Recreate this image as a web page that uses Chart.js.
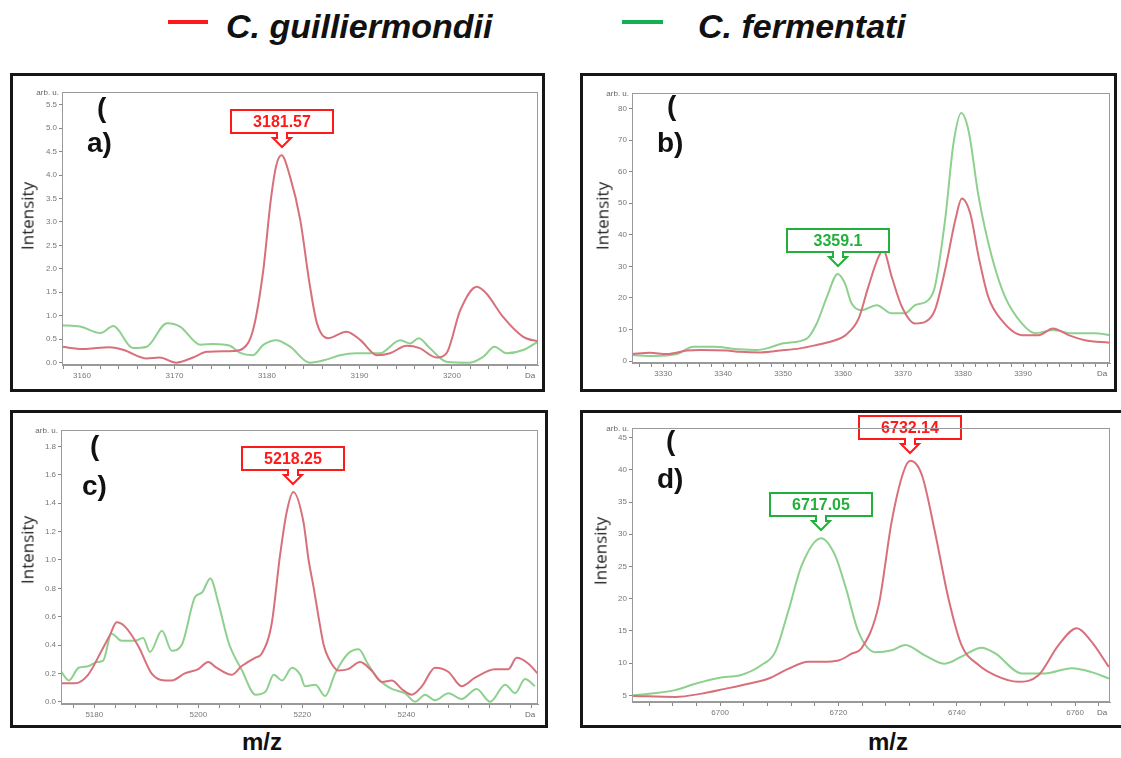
<!DOCTYPE html>
<html>
<head>
<meta charset="utf-8">
<script src="https://cdn.jsdelivr.net/npm/chart.js@4.4.1/dist/chart.umd.min.js"></script>
<style>
  html, body { margin: 0; padding: 0; background: #fff; }
  body { width: 1121px; height: 758px; position: relative; overflow: hidden; font-family: "Liberation Sans", Arial, sans-serif; }
  .box { position: absolute; border: 3px solid #161616; box-sizing: border-box; }
  canvas { position: absolute; }
  .t { position: absolute; white-space: nowrap; line-height: 1; color: #111; }
  .lab { font-size: 28px; font-weight: bold; }
  .leg { font-size: 34px; font-weight: bold; font-style: italic; }
  .mz { font-size: 24px; font-weight: bold; }
  .ylab { font-family: "Open Sans", sans-serif; font-size: 17px; color: #222; transform: translate(-50%, -50%) rotate(-90deg); }
  .swatch { position: absolute; height: 4px; }
</style>
</head>
<body>
<div class="box" style="left:10px;top:73px;width:535px;height:319px"></div>
<div class="box" style="left:580px;top:73px;width:537px;height:319px"></div>
<div class="box" style="left:10px;top:410px;width:538px;height:318px"></div>
<div class="box" style="left:580px;top:410px;width:560px;height:318px"></div>

<div class="swatch" style="left:168px;top:20px;width:40px;background:#ff1a1a"></div>
<div class="t leg" style="left:226px;top:9px">C. guilliermondii</div>
<div class="swatch" style="left:622px;top:20px;width:41px;background:#12b050"></div>
<div class="t leg" style="left:698px;top:9px">C. fermentati</div>

<script>
// panel a) 3160-3210 Da
const aRedMz = [3157.8, 3160.1, 3163.0, 3164.5, 3167.0, 3168.4, 3170.2, 3172.0, 3173.5, 3176.4, 3177.4, 3178.5, 3179.6, 3180.4, 3181.0, 3181.57, 3182.5, 3183.6, 3184.6, 3185.4, 3186.6, 3188.6, 3190.1, 3191.9, 3193.3, 3195.1, 3196.5, 3198.3, 3199.4, 3200.9, 3202.7, 3203.7, 3205.5, 3207.7, 3209.3];
const aRedInt = [0.34, 0.29, 0.33, 0.27, 0.09, 0.11, 0.0, 0.11, 0.23, 0.25, 0.30, 0.70, 1.97, 3.45, 4.2, 4.42, 3.96, 3.04, 1.69, 0.84, 0.52, 0.66, 0.48, 0.16, 0.20, 0.36, 0.31, 0.11, 0.20, 1.12, 1.62, 1.48, 0.98, 0.55, 0.45];
const aGreenMz = [3157.8, 3159.8, 3162.0, 3163.4, 3165.5, 3167.0, 3169.2, 3170.6, 3172.8, 3174.2, 3176.0, 3177.1, 3178.5, 3179.6, 3181.0, 3182.5, 3184.6, 3186.5, 3187.9, 3189.7, 3192.2, 3194.4, 3195.5, 3196.4, 3197.6, 3199.4, 3201.9, 3203.4, 3204.6, 3205.9, 3207.7, 3209.3];
const aGreenInt = [0.80, 0.77, 0.63, 0.78, 0.31, 0.34, 0.84, 0.77, 0.38, 0.40, 0.36, 0.21, 0.16, 0.38, 0.48, 0.34, 0.0, 0.07, 0.16, 0.20, 0.20, 0.48, 0.41, 0.52, 0.31, 0.02, 0.0, 0.13, 0.34, 0.20, 0.27, 0.45];
const aXLabels = [3160, 3170, 3180, 3190, 3200];
const aYTicks = [0, 0.5, 1, 1.5, 2, 2.5, 3, 3.5, 4, 4.5, 5, 5.5];
const aPeaks = [{ mz: 3181.57, y: 4.42, text: '3181.57', color: '#ff1a1a' }];

// panel b) 3330-3400 Da
const bRedMz = [3324.8, 3327.8, 3330.6, 3334.0, 3336.2, 3340.6, 3342.8, 3346.2, 3349.5, 3352.8, 3355.6, 3358.4, 3360.6, 3362.6, 3364.2, 3365.9, 3366.7, 3368.1, 3369.8, 3372.0, 3373.7, 3375.3, 3377.0, 3378.7, 3379.8, 3381.2, 3382.6, 3384.2, 3386.4, 3389.8, 3392.6, 3395.0, 3397.6, 3400.3, 3404.4];
const bRedInt = [2.2, 2.6, 2.2, 3.3, 3.5, 3.3, 2.9, 2.7, 3.3, 4.0, 5.1, 6.4, 8.5, 13.5, 23.5, 33, 35, 26.7, 17.2, 11.9, 12.4, 16.1, 28.8, 44.6, 51.5, 46.7, 33, 20.3, 13, 8.2, 8.2, 10.3, 8.2, 6.6, 5.8];
const bGreenMz = [3324.8, 3328.4, 3332.3, 3335.0, 3338.4, 3342.8, 3345.6, 3347.3, 3350.0, 3354.0, 3355.6, 3357.3, 3359.1, 3360.3, 3361.4, 3363.1, 3365.6, 3368.1, 3370.3, 3372.0, 3374.2, 3375.3, 3377.0, 3378.4, 3379.7, 3380.9, 3382.6, 3384.8, 3387.0, 3389.8, 3392.0, 3395.0, 3398.1, 3402.0, 3404.4];
const bGreenInt = [1.9, 1.6, 2.2, 4.5, 4.5, 3.7, 3.5, 4.0, 5.6, 7.2, 11.9, 20.3, 27.6, 24.6, 18.3, 16.1, 17.7, 15.1, 15.1, 17.7, 19.3, 23.5, 44.6, 68.9, 78.6, 73.1, 52, 33, 20.3, 11.9, 8.8, 9.8, 8.8, 8.8, 8.2];
const bXLabels = [3330, 3340, 3350, 3360, 3370, 3380, 3390];
const bYTicks = [0, 10, 20, 30, 40, 50, 60, 70, 80];
const bPeaks = [{ mz: 3359.1, y: 27.6, text: '3359.1', color: '#22b03a' }];

// panel c) 5180-5260 Da
const cRedMz = [5173.7, 5176.3, 5178.8, 5181.4, 5183.0, 5184.3, 5185.9, 5188.5, 5191.0, 5193.6, 5194.9, 5197.4, 5200.0, 5201.9, 5203.5, 5206.4, 5208.3, 5210.9, 5212.2, 5214.1, 5215.7, 5217.0, 5218.25, 5220.2, 5221.2, 5222.2, 5223.1, 5224.1, 5225.0, 5226.9, 5228.8, 5231.1, 5233.3, 5235.3, 5237.2, 5239.1, 5241.0, 5243.0, 5245.5, 5248.1, 5250.6, 5253.2, 5257.0, 5259.6, 5261.2, 5263.4, 5265.2];
const cRedInt = [0.13, 0.13, 0.19, 0.36, 0.47, 0.56, 0.53, 0.39, 0.20, 0.15, 0.15, 0.20, 0.23, 0.28, 0.24, 0.19, 0.25, 0.31, 0.34, 0.55, 1.03, 1.34, 1.48, 1.27, 1.0, 0.8, 0.6, 0.4, 0.31, 0.22, 0.23, 0.28, 0.22, 0.14, 0.15, 0.09, 0.05, 0.11, 0.24, 0.21, 0.11, 0.17, 0.23, 0.23, 0.31, 0.27, 0.20];
const cGreenMz = [5173.5, 5175.1, 5177.0, 5178.8, 5180.5, 5181.7, 5183.3, 5185.3, 5187.8, 5189.4, 5190.7, 5193.0, 5194.9, 5196.8, 5199.4, 5200.7, 5202.3, 5203.9, 5205.8, 5208.4, 5211.0, 5212.9, 5214.5, 5216.1, 5218.0, 5219.6, 5220.5, 5222.5, 5224.4, 5226.3, 5228.8, 5230.8, 5232.7, 5234.6, 5237.2, 5239.7, 5241.7, 5243.6, 5245.5, 5248.1, 5250.6, 5253.5, 5256.1, 5259.0, 5260.9, 5262.8, 5264.7];
const cGreenInt = [0.22, 0.15, 0.24, 0.25, 0.28, 0.29, 0.48, 0.43, 0.43, 0.45, 0.35, 0.50, 0.36, 0.40, 0.74, 0.77, 0.87, 0.69, 0.42, 0.22, 0.05, 0.07, 0.19, 0.15, 0.24, 0.19, 0.11, 0.12, 0.04, 0.20, 0.34, 0.37, 0.26, 0.16, 0.09, 0.06, 0.0, 0.05, 0.01, 0.06, 0.02, 0.09, 0.0, 0.12, 0.06, 0.16, 0.11];
const cXLabels = [5180, 5200, 5220, 5240];
const cYTicks = [0, 0.2, 0.4, 0.6, 0.8, 1.0, 1.2, 1.4, 1.6, 1.8];
const cPeaks = [{ mz: 5218.25, y: 1.48, text: '5218.25', color: '#ff1a1a' }];

// panel d) 6690-6765 Da
const dRedMz = [6685.3, 6692.4, 6696.9, 6700.8, 6704.8, 6708.2, 6711.5, 6714.9, 6717.2, 6720.0, 6722.3, 6723.9, 6726.8, 6729.0, 6731.0, 6732.14, 6734.1, 6736.3, 6738.6, 6740.8, 6743.7, 6746.5, 6750.4, 6753.8, 6757.2, 6760.3, 6762.8, 6765.7];
const dRedInt = [4.9, 4.75, 5.26, 6.0, 6.8, 7.6, 9.1, 10.2, 10.2, 10.4, 11.5, 12.3, 19.0, 32.0, 39.7, 41.4, 39.2, 30.4, 20.0, 12.8, 9.7, 8.1, 7.1, 8.1, 12.8, 15.4, 13.3, 9.4];
const dGreenMz = [6685.3, 6692.4, 6695.8, 6699.7, 6703.7, 6707.0, 6709.3, 6711.5, 6713.8, 6717.05, 6719.4, 6721.3, 6723.4, 6726.2, 6729.0, 6731.3, 6734.6, 6738.0, 6740.8, 6744.2, 6746.5, 6751.0, 6754.9, 6759.4, 6762.8, 6765.7];
const dGreenInt = [5.0, 5.8, 6.8, 7.7, 8.2, 9.7, 11.7, 18.0, 25.2, 29.4, 26.8, 21.5, 14.8, 11.7, 12.0, 12.8, 11.2, 9.9, 11.0, 12.4, 11.5, 8.4, 8.4, 9.2, 8.6, 7.6];
const dXLabels = [6700, 6720, 6740, 6760];
const dYTicks = [5, 10, 15, 20, 25, 30, 35, 40, 45];
const dPeaks = [
  { mz: 6717.05, y: 29.4, text: '6717.05', color: '#22b03a' },
  { mz: 6732.14, y: 41.4, text: '6732.14', color: '#ff1a1a' }
];

const RED = '#d8707c';
const GREEN = '#8ed08e';

function txt(cls, x, y, s, extra) {
  const d = document.createElement('div');
  d.className = 't ' + cls;
  d.style.left = x + 'px';
  d.style.top = y + 'px';
  if (extra) d.style.cssText += extra;
  d.textContent = s;
  document.body.appendChild(d);
}

function panel(p) {
  const yw = 40, pt = 14, pr = 4, xh = 20;
  const [L, T, R, B] = p.plot;
  const cv = document.createElement('canvas');
  cv.width = R - L + yw + pr;
  cv.height = B - T + pt + xh;
  cv.style.left = (L - yw) + 'px';
  cv.style.top = (T - pt) + 'px';
  document.body.appendChild(cv);

  const minor = [];
  for (let v = Math.ceil(p.xMin / p.step) * p.step; v <= p.xMax; v += p.step) minor.push(v);

  const frame = {
    id: 'frame',
    afterDraw(chart) {
      const a = chart.chartArea, ctx = chart.ctx;
      ctx.save();
      ctx.strokeStyle = '#9a9a9a';
      ctx.lineWidth = 1;
      ctx.strokeRect(a.left + 0.5, a.top + 0.5, a.right - a.left - 1, a.bottom - a.top - 1);
      ctx.fillStyle = '#666';
      ctx.font = '8px "Liberation Sans", Arial';
      ctx.textAlign = 'right';
      ctx.textBaseline = 'middle';
      ctx.fillText('arb. u.', a.left - 3, a.top + 1);
      ctx.textAlign = 'center';
      ctx.textBaseline = 'top';
      ctx.fillText('Da', a.right - 8, a.bottom + 7);
      ctx.restore();
    }
  };

  const peaks = {
    id: 'peaks',
    afterDatasetsDraw(chart) {
      const ctx = chart.ctx, xs = chart.scales.x, ys = chart.scales.y;
      p.peaks.forEach(k => {
        const cx = Math.round(xs.getPixelForValue(k.mz));
        const tip = Math.round(ys.getPixelForValue(k.y)) - 8;
        const by = tip - 14, bw = 102, bh = 23;
        ctx.save();
        ctx.lineWidth = 2;
        ctx.strokeStyle = k.color;
        ctx.fillStyle = '#fff';
        ctx.fillRect(cx - bw / 2, by - bh, bw, bh);
        ctx.strokeRect(cx - bw / 2, by - bh, bw, bh);
        ctx.beginPath();
        ctx.moveTo(cx - 5, by - 1);
        ctx.lineTo(cx - 5, by + 5);
        ctx.lineTo(cx - 9, by + 5);
        ctx.lineTo(cx, by + 14);
        ctx.lineTo(cx + 9, by + 5);
        ctx.lineTo(cx + 5, by + 5);
        ctx.lineTo(cx + 5, by - 1);
        ctx.fill();
        ctx.stroke();
        ctx.fillRect(cx - 4, by - 2, 8, 4);
        ctx.fillStyle = k.color;
        ctx.font = 'bold 16px "Liberation Sans", Arial';
        ctx.textAlign = 'center';
        ctx.textBaseline = 'middle';
        ctx.fillText(k.text, cx, by - bh / 2 + 1);
        ctx.restore();
      });
    }
  };

  new Chart(cv, {
    type: 'line',
    data: {
      datasets: [
        { label: 'C. guilliermondii', data: p.redMz.map((x, i) => ({ x, y: p.red[i] })), borderColor: RED },
        { label: 'C. fermentati', data: p.greenMz.map((x, i) => ({ x, y: p.green[i] })), borderColor: GREEN }
      ]
    },
    options: {
      responsive: false,
      animation: false,
      layout: { padding: { top: pt, right: pr, left: 0, bottom: 0 } },
      elements: {
        point: { radius: 0 },
        line: { borderWidth: 2, tension: 0.4, cubicInterpolationMode: 'monotone' }
      },
      plugins: { legend: { display: false }, tooltip: { enabled: false } },
      scales: {
        x: {
          type: 'linear', min: p.xMin, max: p.xMax,
          afterFit: s => { s.height = xh; },
          afterBuildTicks: s => { s.ticks = minor.map(v => ({ value: v })); },
          ticks: {
            autoSkip: false, maxRotation: 0, padding: 2, color: '#777',
            font: { size: 8, family: '"Liberation Sans", Arial' },
            callback: v => p.xLabels.includes(v) ? String(v) : ''
          },
          grid: { drawOnChartArea: false, tickLength: 4, color: '#888' },
          border: { color: '#999' }
        },
        y: {
          min: p.yMin, max: p.yMax,
          afterFit: s => { s.width = yw; },
          afterBuildTicks: s => { s.ticks = p.yTicks.map(v => ({ value: v })); },
          ticks: {
            padding: 2, color: '#777',
            font: { size: 8, family: '"Liberation Sans", Arial' },
            callback: v => v.toFixed(p.dec)
          },
          grid: { drawOnChartArea: false, tickLength: 3, color: '#888' },
          border: { color: '#999' }
        }
      }
    },
    plugins: [frame, peaks]
  });

  txt('ylab', p.ylab[0], p.ylab[1], 'Intensity');
  txt('lab', p.lab[0], p.lab[1], '(');
  txt('lab', p.lab[2], p.lab[3], p.name + ')');
}

panel({ name: 'a', plot: [62, 92, 538, 365], xMin: 3157.84, xMax: 3209.3, yMin: -0.05, yMax: 5.77, step: 2, dec: 1,
  redMz: aRedMz, red: aRedInt, greenMz: aGreenMz, green: aGreenInt, xLabels: aXLabels, yTicks: aYTicks, peaks: aPeaks,
  ylab: [27, 216], lab: [97, 94, 87, 129] });
panel({ name: 'b', plot: [632, 93, 1110, 363], xMin: 3324.8, xMax: 3404.5, yMin: -0.63, yMax: 84.9, step: 2, dec: 0,
  redMz: bRedMz, red: bRedInt, greenMz: bGreenMz, green: bGreenInt, xLabels: bXLabels, yTicks: bYTicks, peaks: bPeaks,
  ylab: [602, 216], lab: [667, 92, 657, 129] });
panel({ name: 'c', plot: [61, 430, 538, 704], xMin: 5173.6, xMax: 5265.3, yMin: -0.016, yMax: 1.917, step: 4, dec: 1,
  redMz: cRedMz, red: cRedInt, greenMz: cGreenMz, green: cGreenInt, xLabels: cXLabels, yTicks: cYTicks, peaks: cPeaks,
  ylab: [27, 550], lab: [90, 432, 82, 472] });
panel({ name: 'd', plot: [632, 428, 1110, 702], xMin: 6685.1, xMax: 6765.9, yMin: 3.96, yMax: 46.5, step: 4, dec: 0,
  redMz: dRedMz, red: dRedInt, greenMz: dGreenMz, green: dGreenInt, xLabels: dXLabels, yTicks: dYTicks, peaks: dPeaks,
  ylab: [600, 551], lab: [666, 427, 657, 465] });

txt('mz', 242, 730, 'm/z');
txt('mz', 868, 730, 'm/z');
</script>
</body>
</html>
